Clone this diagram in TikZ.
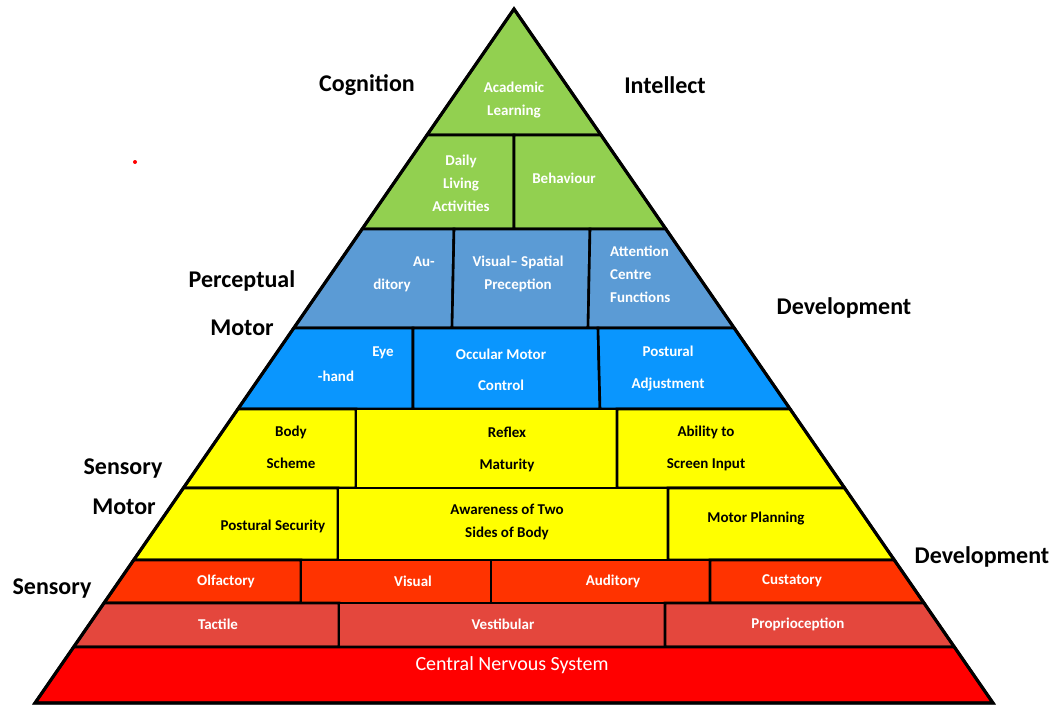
\documentclass[tikz,border=0pt]{standalone}
\usepackage{fontspec}
\setmainfont{Carlito}
\definecolor{cogGreen}{HTML}{92D050}
\definecolor{percBlue}{HTML}{5B9BD5}
\definecolor{motorBlue}{HTML}{0A96FE}
\definecolor{smYellow}{HTML}{FFFF00}
\definecolor{senseRed}{HTML}{FF3300}
\definecolor{baseRed}{HTML}{E4473D}
\definecolor{cnsRed}{HTML}{FF0000}
% one quadrilateral cell: fill, top y, bottom y, top-left x, bottom-left x, top-right x, bottom-right x
\newcommand\pyrcell[7]{\path[cellline,fill=#1] ({#4},#2) -- ({#6},#2) -- ({#7},#3) -- ({#5},#3) -- cycle;}
\begin{document}
\begin{tikzpicture}[x=1pt,y=-1pt,
  declare function={xl(\t)=514-0.6902*(\t-9); xr(\t)=514+0.6902*(\t-9);},
  cellline/.style={draw=black,line width=2.6pt,line join=miter},
  intext/.style={text=white,font=\bfseries\fontsize{15}{23}\selectfont,align=center,inner sep=0pt},
  darktext/.style={intext,text=black},
  sidelabel/.style={font=\bfseries\fontsize{24}{28}\selectfont,inner sep=0pt}]
\useasboundingbox (0,0) rectangle (1057,706);

% cognition / intellect
\path[cellline,fill=cogGreen] (514,9) -- ({xr(135)},135) -- ({xl(135)},135) -- cycle;
\pyrcell{cogGreen}{135}{229}{xl(135)}{xl(229)}{514}{514}
\pyrcell{cogGreen}{135}{229}{514}{514}{xr(135)}{xr(229)}
% perceptual motor
\pyrcell{percBlue}{229}{328}{xl(229)}{xl(328)}{454}{452}
\pyrcell{percBlue}{229}{328}{454}{452}{590}{588}
\pyrcell{percBlue}{229}{328}{590}{588}{xr(229)}{xr(328)}
\pyrcell{motorBlue}{328}{409}{xl(328)}{xl(409)}{413}{413}
\pyrcell{motorBlue}{328}{409}{413}{413}{598}{600}
\pyrcell{motorBlue}{328}{409}{598}{600}{xr(328)}{xr(409)}
% sensory motor
\pyrcell{smYellow}{409}{488}{xl(409)}{xl(488)}{356}{356}
\pyrcell{smYellow}{409}{488}{356}{356}{617}{617}
\pyrcell{smYellow}{409}{488}{617}{617}{xr(409)}{xr(488)}
\pyrcell{smYellow}{488}{560}{xl(488)}{xl(560)}{338}{338}
\pyrcell{smYellow}{488}{560}{338}{338}{668}{668}
\pyrcell{smYellow}{488}{560}{668}{668}{xr(488)}{xr(560)}
% sensory
\pyrcell{senseRed}{560}{603}{xl(560)}{xl(603)}{301}{301}
\pyrcell{senseRed}{560}{603}{301}{301}{491}{491}
\pyrcell{senseRed}{560}{603}{491}{491}{710}{710}
\pyrcell{senseRed}{560}{603}{710}{710}{xr(560)}{xr(603)}
\pyrcell{baseRed}{603}{647}{xl(603)}{xl(647)}{339}{339}
\pyrcell{baseRed}{603}{647}{339}{339}{665}{665}
\pyrcell{baseRed}{603}{647}{665}{665}{xr(603)}{xr(647)}
\pyrcell{cnsRed}{647}{703}{xl(647)}{xl(703)}{xr(647)}{xr(703)}
% outline of the whole pyramid
\draw[line width=3.2pt,line join=miter] (514,9) -- ({xl(703)},703) -- ({xr(703)},703) -- cycle;

% cell texts
\node[intext] (acad) at (514,100) {Academic\\Learning};
\node[intext] (daily) at (461,183.5) {Daily\\Living\\Activities};
\node[intext] (behav) at (564,178) {Behaviour};
\node[intext,anchor=east] (audA) at (435,262) {Au-};
\node[intext] (audB) at (392,285) {ditory};
\node[intext] (vsp) at (518,273.5) {Visual-- Spatial\\Preception};
\node[intext,align=left,anchor=west] (attn) at (610,274) {Attention\\Centre\\Functions};
\node[intext] (eye) at (383,353) {Eye};
\node[intext] (hand) at (336,376) {-hand};
\node[intext] (occ) at (501,370) {Occular Motor\\[8pt]Control};
\node[intext] (post) at (668,369) {Postural\\[9pt]Adjustment};
\node[darktext] (body) at (291,447) {Body\\[9pt]Scheme};
\node[darktext] (refl) at (507,449) {Reflex\\[9pt]Maturity};
\node[darktext] (abil) at (706,448) {Ability to\\[9pt]Screen Input};
\node[darktext] (psec) at (273,526) {Postural Security};
\node[darktext] (aware) at (507,521.5) {Awareness of Two\\Sides of Body};
\node[darktext] (mplan) at (756,519) {Motor Planning};
\node[intext] (olf) at (226,581) {Olfactory};
\node[intext] (vis) at (413,581) {Visual};
\node[intext] (aud) at (613,581) {Auditory};
\node[intext] (cust) at (792,581) {Custatory};
\node[intext] (tact) at (218,624) {Tactile};
\node[intext] (vest) at (503,624) {Vestibular};
\node[intext] (prop) at (798,624) {Proprioception};
\node[intext,font=\fontsize{20}{24}\selectfont] (cns) at (512,665) {Central Nervous System};

% side labels
\node[sidelabel] (cog) at (367,85) {Cognition};
\node[sidelabel] (intel) at (665,85) {Intellect};
\node[sidelabel] (perc) at (242,281) {Perceptual};
\node[sidelabel] (pmot) at (242,328) {Motor};
\node[sidelabel] (dev1) at (844,308) {Development};
\node[sidelabel] (sens1) at (123,469) {Sensory};
\node[sidelabel] (smot) at (124,507) {Motor};
\node[sidelabel] (sens2) at (52,589) {Sensory};
\node[sidelabel] (dev2) at (982,557) {Development};

% small red dot
\fill[red] (135,162) circle (2);
\end{tikzpicture}
\end{document}
